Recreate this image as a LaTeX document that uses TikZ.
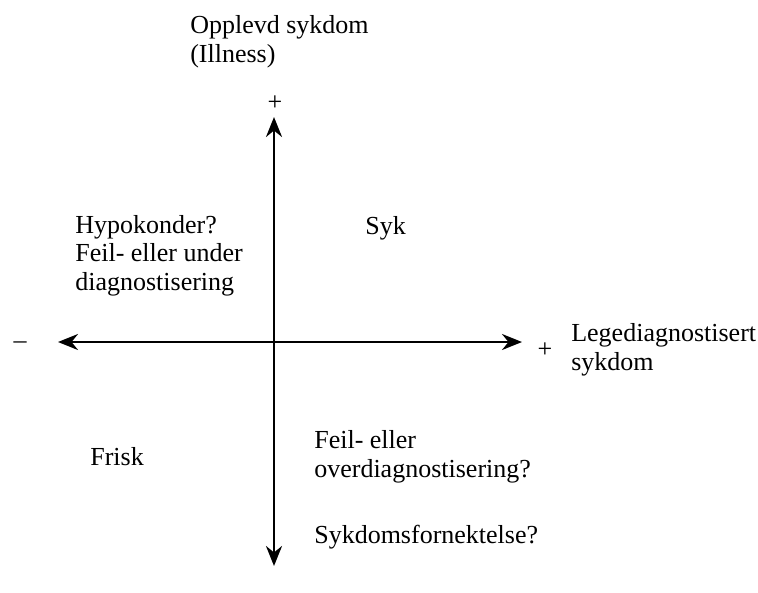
\documentclass[tikz,border=0pt]{standalone}
\usepackage{fontspec}
\setmainfont{Liberation Serif}
\usetikzlibrary{arrows.meta}

\begin{document}
\begin{tikzpicture}[x=1pt, y=-1pt, line width=2.6pt,
  axis/.style={{Stealth[length=20pt,width=16pt]}-{Stealth[length=20pt,width=16pt]}},
  lbl/.style={font=\fontsize{26}{28.5}\selectfont, inner sep=0pt, anchor=base west, align=left}]
  \useasboundingbox (0,0) rectangle (758,592);
  \coordinate (T) at (274,117);
  \coordinate (B) at (274,566);
  \coordinate (L) at (58,342);
  \coordinate (R) at (522,342);
  % akser
  \draw[axis] (L) -- (R);
  \draw[axis] (B) -- (T);
  % aksetekster (base = siste linje)
  \node[lbl] (ylab) at (189,62) {Opplevd sykdom\\(Illness)};
  \node[lbl, anchor=center] (yplus) at (275,103) {+};
  \node[lbl, anchor=center] (xminus) at (20,345) {–};
  \node[lbl, anchor=center] (xplus) at (545,350) {+};
  \node[lbl] (xlab) at (570,370) {Legediagnostisert\\sykdom};
  % kvadranter
  \node[lbl] (hypo) at (74,290) {Hypokonder?\\Feil- eller under\\diagnostisering};
  \node[lbl] (syk) at (364,234) {Syk};
  \node[lbl] (frisk) at (89,465) {Frisk};
  \node[lbl] (over) at (313,477) {Feil- eller\\overdiagnostisering?};
  \node[lbl] (fornekt) at (313,543) {Sykdomsfornektelse?};
\end{tikzpicture}
\end{document}
